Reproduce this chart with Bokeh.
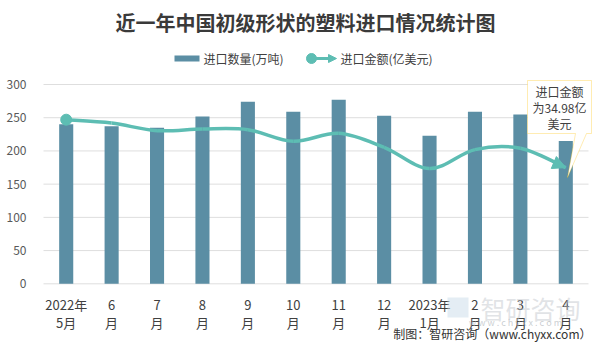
from bokeh.plotting import figure
from bokeh.models import (Range1d, FixedTicker, Label, PolyAnnotation, Arrow, NormalHead,
                          ColumnDataSource)
from bokeh.embed import file_html
from bokeh.resources import INLINE

# ---------------- data ----------------
months = ["2022年\n5月", "6\n月", "7\n月", "8\n月", "9\n月", "10\n月", "11\n月",
          "12\n月", "2023年\n1月", "2\n月", "3\n月", "4\n月"]
quantity = [240, 237, 235, 252, 274, 259, 277, 253, 223, 259, 255, 215]   # 万吨
amount = [49.4, 48.4, 46.1, 46.6, 46.4, 42.9, 45.3, 41.1, 34.7, 40.4, 40.8, 34.98]  # 亿美元
y_ticks = [0, 50, 100, 150, 200, 250, 300]

title_text = "近一年中国初级形状的塑料进口情况统计图"
legend_bar = "进口数量(万吨)"
legend_line = "进口金额(亿美元)"
callout_lines = ["进口金额", "为34.98亿", "美元"]
footer = "制图：智研咨询（www.chyxx.com）"

BAR = "#5b8ea4"
LINE = "#5dbdb3"
FONT = "Noto Sans CJK SC"

W, H = 593, 343
OX, OY = 0, 0
n = len(months)

# plot-area geometry in reference pixels
fx0, fx1 = 43.0, 588.0
fy0, fy1 = 84.0, 283.3
ppx = (fx1 - fx0) / n
ppy = (fy1 - fy0) / 300.0

def px2x(rx):
    return -0.5 + (rx - fx0) / ppx
def px2y(ry):
    return (fy1 - ry) / ppy

x_start, x_end = px2x(OX), px2x(OX + W)
y_start, y_end = px2y(OY + H), px2y(OY)

p = figure(width=W, height=H, output_backend="svg", toolbar_location=None,
           x_range=Range1d(x_start, x_end), y_range=Range1d(y_start, y_end),
           min_border_left=0, min_border_right=0, min_border_top=0, min_border_bottom=0)
p.extra_y_ranges = {"amt": Range1d(y_start / 5, y_end / 5)}
p.outline_line_color = None
p.background_fill_color = "white"
p.border_fill_color = "white"
p.xgrid.grid_line_color = None
p.ygrid.grid_line_color = None

# gridlines limited to the plot area
p.segment(x0=[px2x(fx0)] * len(y_ticks), x1=[px2x(fx1)] * len(y_ticks), y0=y_ticks, y1=y_ticks,
          line_color="#dedede", line_width=1)

# axes at fixed locations
p.xaxis.fixed_location = 0
p.xaxis.ticker = FixedTicker(ticks=list(range(n)))
p.xaxis.major_label_overrides = {i: m for i, m in enumerate(months)}
p.xaxis.axis_line_color = None
p.xaxis.major_tick_line_color = None
p.xaxis.minor_tick_line_color = None
p.xaxis.major_label_text_font = FONT
p.xaxis.major_label_text_font_size = "13px"
p.xaxis.major_label_text_color = "#404040"
p.xaxis.major_label_text_line_height = 0.98
p.xaxis.major_label_standoff = 5

p.yaxis.fixed_location = px2x(fx0)
p.yaxis.ticker = FixedTicker(ticks=y_ticks)
p.yaxis.axis_line_color = None
p.yaxis.major_tick_line_color = None
p.yaxis.minor_tick_line_color = None
p.yaxis.major_label_text_font = FONT
p.yaxis.major_label_text_font_size = "12px"
p.yaxis.major_label_text_color = "#595959"
p.yaxis.major_label_standoff = 11

# bars
xs = list(range(n))
p.vbar(x=xs, top=quantity, width=0.31, fill_color=BAR, line_color=None)

# smooth line through amount points via bezier segments (Catmull-Rom control points)
x0s, y0s, x1s, y1s, cx0s, cy0s, cx1s, cy1s = [], [], [], [], [], [], [], []
for i in range(n - 1):
    xm, ym = xs[max(i - 1, 0)], amount[max(i - 1, 0)]
    xa, ya = xs[i], amount[i]
    xb, yb = xs[i + 1], amount[i + 1]
    xp, yp = xs[min(i + 2, n - 1)], amount[min(i + 2, n - 1)]
    x0s.append(xa); y0s.append(ya); x1s.append(xb); y1s.append(yb)
    cx0s.append(xa + (xb - xm) / 6); cy0s.append(ya + (yb - ym) / 6)
    cx1s.append(xb - (xp - xa) / 6); cy1s.append(yb - (yp - ya) / 6)
src = ColumnDataSource(dict(x0=x0s, y0=y0s, x1=x1s, y1=y1s, cx0=cx0s, cy0=cy0s, cx1=cx1s, cy1=cy1s))
p.bezier(x0="x0", y0="y0", x1="x1", y1="y1", cx0="cx0", cy0="cy0", cx1="cx1", cy1="cy1",
         source=src, line_color=LINE, line_width=3.5, y_range_name="amt")
p.scatter(x=[xs[0]], y=[amount[0]], size=11, marker="circle", fill_color=LINE,
          line_color=LINE, y_range_name="amt")
p.add_layout(Arrow(x_start=cx1s[-1], y_start=cy1s[-1], x_end=xs[-1], y_end=amount[-1],
                   line_alpha=0, line_width=0, y_range_name="amt",
                   end=NormalHead(size=13, fill_color=LINE, line_color=LINE)))

# title
p.add_layout(Label(x=px2x(305), y=px2y(22), text=title_text, text_align="center",
                   text_baseline="middle", text_font=FONT, text_font_size="20px",
                   text_font_style="bold", text_color="#3a3a3a"))

# legend (manual)
p.add_layout(PolyAnnotation(xs=[px2x(174), px2x(199), px2x(199), px2x(174)],
                            ys=[px2y(55), px2y(55), px2y(61), px2y(61)],
                            fill_color=BAR, fill_alpha=1, line_color=None))
p.add_layout(Label(x=px2x(203), y=px2y(58), text=legend_bar, text_baseline="middle",
                   text_font=FONT, text_font_size="12px", text_color="#404040"))
p.add_layout(Arrow(x_start=px2x(311), y_start=px2y(58), x_end=px2x(336), y_end=px2y(58),
                   line_color=LINE, line_width=3,
                   end=NormalHead(size=8, fill_color=LINE, line_color=LINE)))
p.scatter(x=[px2x(311)], y=[px2y(58)], size=10, marker="circle", fill_color=LINE, line_color=LINE)
p.add_layout(Label(x=px2x(340), y=px2y(58), text=legend_line, text_baseline="middle",
                   text_font=FONT, text_font_size="12px", text_color="#404040"))

# callout
bx = [527, 591, 591, 586, 567, 575, 527]
by = [80, 80, 133, 133, 177, 133, 133]
p.add_layout(PolyAnnotation(xs=[px2x(v) for v in bx], ys=[px2y(v) for v in by],
                            fill_color="white", fill_alpha=1, line_color="#ffc000", line_width=1))
for k, t in enumerate(callout_lines):
    p.add_layout(Label(x=px2x(559), y=px2y(91 + 16 * k), text=t, text_align="center",
                       text_baseline="middle", text_font=FONT, text_font_size="12px",
                       text_color="#404040"))

# watermark
p.add_layout(PolyAnnotation(xs=[px2x(447), px2x(468), px2x(468), px2x(447)],
                            ys=[px2y(297), px2y(297), px2y(317), px2y(317)],
                            fill_color="#c9dcea", fill_alpha=0.5, line_color=None))
p.add_layout(Label(x=px2x(530), y=px2y(307), text="智研咨询", text_align="center",
                   text_baseline="middle", text_font=FONT, text_font_size="25px",
                   text_color="#c3c8cd", text_alpha=0.5))
p.add_layout(Label(x=px2x(515), y=px2y(322), text="w w w . c h y x x . c o m", text_align="center",
                   text_baseline="middle", text_font=FONT, text_font_size="9px",
                   text_color="#a8aeb4", text_alpha=0.6))

# footer
p.add_layout(Label(x=px2x(591), y=px2y(333), text=footer, text_align="right",
                   text_baseline="middle", text_font=FONT, text_font_size="12px",
                   text_color="#333333"))

open("out.html", "w").write(file_html(p, INLINE))
